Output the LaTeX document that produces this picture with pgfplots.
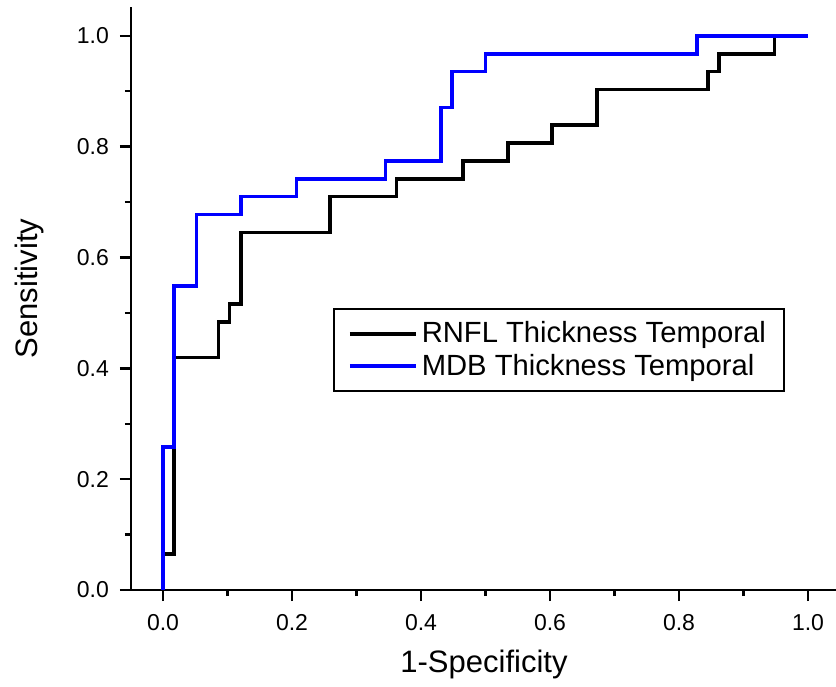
\documentclass[border=0pt]{standalone}
\usepackage{fontspec}
\setmainfont{Liberation Sans}
\usepackage{pgfplots}
\pgfplotsset{compat=1.18}
\definecolor{roblue}{RGB}{0,0,255}
\begin{document}
\begin{tikzpicture}
\begin{axis}[
  name=ax,
  scale only axis,
  width=352.5pt, height=291.5pt,
  xmin=-0.0496, xmax=1.0434,
  ymin=0, ymax=1.052,
  axis x line*=bottom,
  axis y line*=left,
  axis line style={-, line width=1.2pt},
  xtick={0,0.2,0.4,0.6,0.8,1.0},
  ytick={0,0.2,0.4,0.6,0.8,1.0},
  xticklabels={0.0,0.2,0.4,0.6,0.8,1.0},
  yticklabels={0.0,0.2,0.4,0.6,0.8,1.0},
  minor tick num=1,
  tick align=outside,
  major tick length=5.5pt,
  minor tick length=3pt,
  every tick/.style={black, line width=1.2pt},
  x tick label style={font=\fontsize{11.5}{13}\selectfont, anchor=north, yshift=-3pt},
  y tick label style={font=\fontsize{11.5}{13}\selectfont, anchor=east, xshift=-2pt},
  xlabel={1-Specificity},
  ylabel={Sensitivity},
  every axis x label/.style={at={(axis description cs:0.5007,-0.1407)}, anchor=base, font=\fontsize{15.5}{18}\selectfont},
  every axis y label/.style={at={(axis description cs:-0.1333,0.517)}, anchor=base, rotate=90, font=\fontsize{15.5}{18}\selectfont},
  legend style={at={(axis description cs:0.2865,0.4837)}, anchor=north west,
    draw=black, line width=0.8pt, font=\fontsize{14.6}{17.5}\selectfont,
    inner xsep=7pt, inner ysep=4.5pt, row sep=0pt},
  legend cell align=left,
  legend image code/.code={\draw[#1, line width=2pt] (0pt,0pt) -- (33pt,0pt);},
  clip=false,
]
\addplot[black, line width=1.8pt] coordinates {
(0,0)(0,0.0645)(0.0172,0.0645)(0.0172,0.4194)(0.0862,0.4194)(0.0862,0.4839)
(0.1034,0.4839)(0.1034,0.5161)(0.1207,0.5161)(0.1207,0.6452)(0.2586,0.6452)
(0.2586,0.7097)(0.3621,0.7097)(0.3621,0.7419)(0.4655,0.7419)(0.4655,0.7742)
(0.5345,0.7742)(0.5345,0.8065)(0.6034,0.8065)(0.6034,0.8387)(0.6724,0.8387)
(0.6724,0.9032)(0.8448,0.9032)(0.8448,0.9355)(0.8621,0.9355)(0.8621,0.9677)
(0.9483,0.9677)(0.9483,1)(1,1)};
\addlegendentry{RNFL Thickness Temporal}
\addplot[roblue, line width=1.8pt] coordinates {
(0,0)(0,0.2581)(0.0172,0.2581)(0.0172,0.5484)(0.0517,0.5484)(0.0517,0.6774)
(0.1207,0.6774)(0.1207,0.7097)(0.2069,0.7097)(0.2069,0.7419)(0.3448,0.7419)
(0.3448,0.7742)(0.4310,0.7742)(0.4310,0.8710)(0.4483,0.8710)(0.4483,0.9355)
(0.5,0.9355)(0.5,0.9677)(0.8276,0.9677)(0.8276,1)(1,1)};
\addlegendentry{MDB Thickness Temporal}
\end{axis}
\pgfresetboundingbox
\path ([xshift=-65.5pt,yshift=-48pt]ax.south west) rectangle ([yshift=3.5pt]ax.north east);
\end{tikzpicture}
\end{document}
